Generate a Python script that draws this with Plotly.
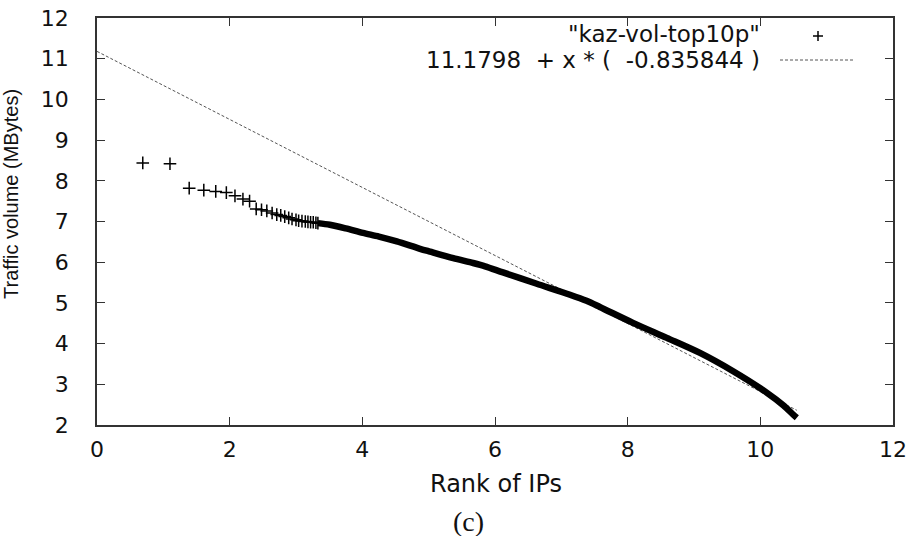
import plotly.graph_objects as go

# ---------------- data ----------------
# sparse leading points of "kaz-vol-top10p" (drawn as + marks)
pts_x = [0.69, 1.10, 1.39, 1.61, 1.79, 1.95, 2.08, 2.20, 2.30,
         2.40, 2.48, 2.56, 2.64, 2.71, 2.77, 2.83, 2.89, 2.94, 3.00,
         3.04, 3.09, 3.14, 3.18, 3.22, 3.26, 3.30, 3.33]
pts_y = [8.44, 8.42, 7.82, 7.77, 7.74, 7.71, 7.63, 7.55, 7.50,
         7.31, 7.29, 7.26, 7.21, 7.17, 7.15, 7.12, 7.09, 7.06, 7.04,
         7.02, 7.01, 7.00, 6.99, 6.98, 6.98, 6.97, 6.96]

# dense part of the same series (thousands of overlapping + marks -> solid band)
band_x = [3.33, 3.51, 3.75, 4.01, 4.25, 4.52, 4.87, 5.02, 5.37, 5.67, 5.85,
          6.12, 6.63, 7.13, 7.38, 7.58, 8.08, 8.59, 9.09, 9.59, 10.10,
          10.35, 10.50, 10.55]
band_y = [6.96, 6.92, 6.83, 6.72, 6.63, 6.51, 6.33, 6.26, 6.10, 5.98, 5.90,
          5.75, 5.47, 5.20, 5.05, 4.90, 4.51, 4.14, 3.77, 3.32, 2.79,
          2.48, 2.25, 2.18]

# least-squares fit shown in the legend (drawn over the data's x range)
fit_intercept = 11.1798
fit_slope = -0.835844
fit_x = [0, 10.55]
fit_y = [fit_intercept + fit_slope * v for v in fit_x]

series_label = '"kaz-vol-top10p"'
fit_label = "11.1798  + x * (  -0.835844 )"
x_ticks = [0, 2, 4, 6, 8, 10, 12]
y_ticks = [2, 3, 4, 5, 6, 7, 8, 9, 10, 11, 12]

# ---------------- layout geometry ----------------
W, H = 908, 536
L, R, T, B = 97, 15, 18, 111
PW, PH = W - L - R, H - T - B


def px(x):
    return (x - L) / PW


def py(y):
    return 1 - (y - T) / PH


fig = go.Figure()

fig.add_trace(go.Scatter(
    x=fit_x, y=fit_y, mode="lines",
    line=dict(color="#555555", width=1, dash="3px,2px"),
    showlegend=False, hoverinfo="skip"))

fig.add_trace(go.Scatter(
    x=band_x, y=band_y, mode="lines",
    line=dict(color="black", width=6.5, shape="spline", smoothing=0.8),
    showlegend=False))

fig.add_trace(go.Scatter(
    x=pts_x, y=pts_y, mode="markers",
    marker=dict(symbol="cross-thin", size=9, line=dict(color="black", width=1.5)),
    showlegend=False))

axis_common = dict(
    showgrid=False, zeroline=False, showline=True, linecolor="#333333",
    linewidth=1.5, ticks="inside", ticklen=8, tickwidth=1.2, tickcolor="#333333",
    mirror="allticks",
    tickfont=dict(family="DejaVu Sans", size=22, color="#111111"),
)

fig.update_xaxes(range=[0, 12], tickvals=x_ticks, ticklabelstandoff=4, **axis_common)
fig.update_yaxes(range=[2, 12], tickvals=y_ticks, ticklabelstandoff=22, **axis_common)

annotations = [
    dict(text="Rank of IPs", x=px(496), y=py(484), font=dict(family="DejaVu Sans", size=24, color="#111111")),
    dict(text="(c)", x=px(468), y=py(521), font=dict(family="Liberation Serif", size=28, color="#111111")),
    dict(text="Traffic volume (MBytes)", x=px(11), y=py(194), textangle=-90,
         font=dict(family="Liberation Sans", size=20, color="#111111")),
    dict(text=series_label, x=px(762), y=py(34), xanchor="right",
         font=dict(family="DejaVu Sans", size=23, color="#111111")),
    dict(text=fit_label, x=px(762), y=py(60), xanchor="right",
         font=dict(family="DejaVu Sans", size=23, color="#111111")),
]
for a in annotations:
    a.setdefault("xanchor", "center")
    a.update(xref="paper", yref="paper", yanchor="middle", showarrow=False)

shapes = [
    # legend sample: + mark
    dict(type="line", x0=px(813), x1=px(823), y0=py(36), y1=py(36),
         line=dict(color="black", width=1.5)),
    dict(type="line", x0=px(818), x1=px(818), y0=py(31), y1=py(41),
         line=dict(color="black", width=1.5)),
    # legend sample: dashed line
    dict(type="line", x0=px(780), x1=px(855), y0=py(60), y1=py(60),
         line=dict(color="#555555", width=1, dash="3px,2px")),
]
for s in shapes:
    s.update(xref="paper", yref="paper")

fig.update_layout(
    width=W, height=H, margin=dict(l=L, r=R, t=T, b=B, autoexpand=False),
    paper_bgcolor="white", plot_bgcolor="white",
    annotations=annotations, shapes=shapes, showlegend=False,
)

fig.write_html("out.html")
